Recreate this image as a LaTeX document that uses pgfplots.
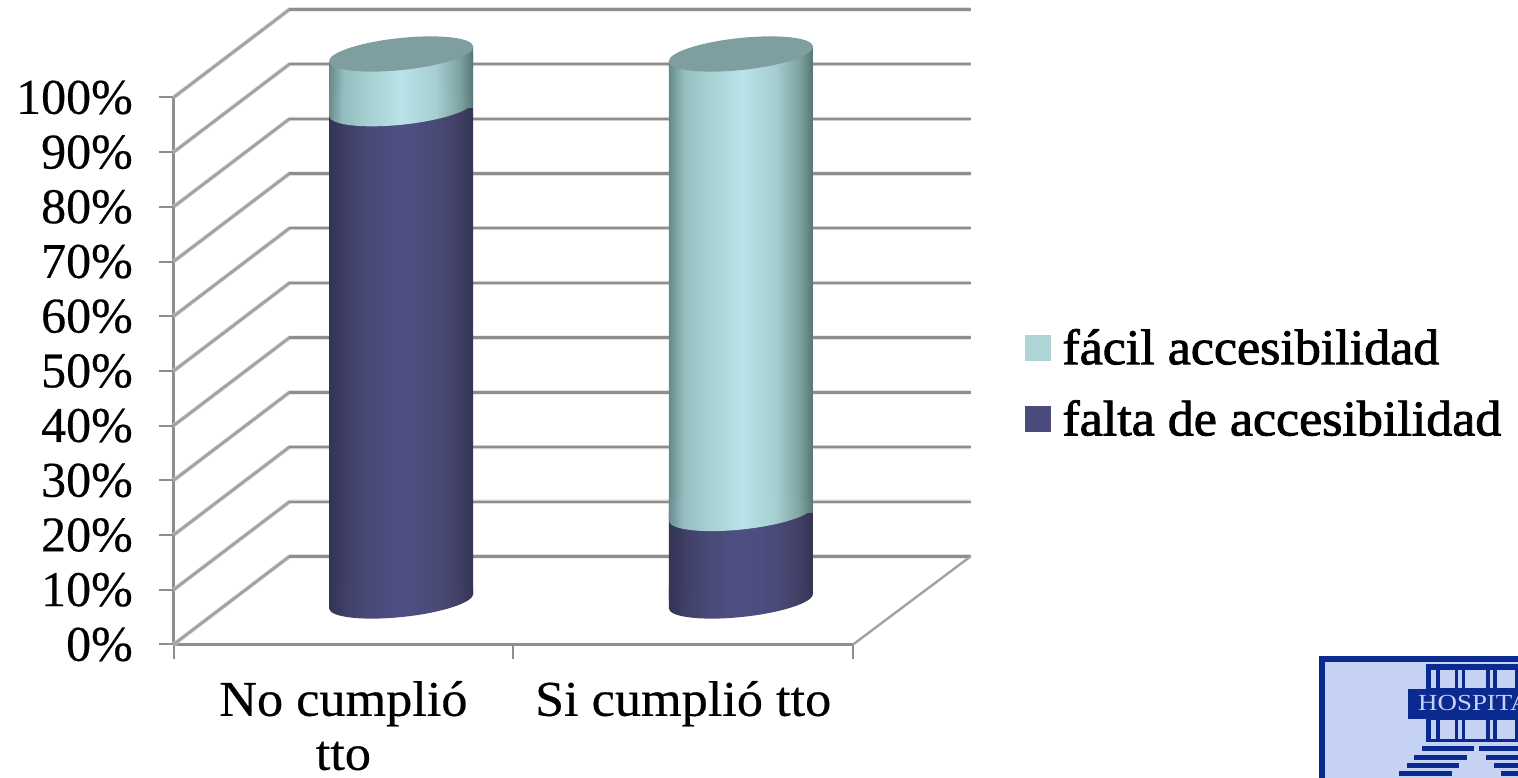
\documentclass[border=0pt]{standalone}
\usepackage{fontspec}
\setmainfont[FakeBold=0.4]{Liberation Serif}
\newfontfamily\categoryfont[FakeStretch=1.045,FakeBold=0.4]{Liberation Serif}
\newfontfamily\legendfont[FakeStretch=1.04,FakeBold=1.8]{Liberation Serif}
\newfontfamily\logofont[FakeStretch=1.17]{Liberation Serif}
\usepackage{pgfplots}
\usepackage{pgfplotstable}
\pgfplotsset{compat=1.18}

\definecolor{gridgray}{HTML}{8E8E8E}
\definecolor{gridsoft}{HTML}{CFCFCF}
\definecolor{walldiag}{HTML}{A2A2A2}
\definecolor{capteal}{HTML}{7F9EA0}
\definecolor{legendlight}{HTML}{AED4D6}
\definecolor{legenddark}{HTML}{4A4A7C}
\definecolor{logoblue}{HTML}{0A2A90}
\definecolor{logopale}{HTML}{C6D2F4}

% Cylinder body shadings, dark at both rims and brightest at the middle
\pgfdeclarehorizontalshading{cylLight}{100bp}{
  rgb(0bp)=(0.40,0.54,0.54); rgb(25bp)=(0.40,0.54,0.54);
  rgb(30bp)=(0.58,0.74,0.75); rgb(38bp)=(0.65,0.81,0.82);
  rgb(50bp)=(0.72,0.89,0.91); rgb(62bp)=(0.65,0.81,0.82);
  rgb(70bp)=(0.50,0.64,0.64); rgb(75bp)=(0.33,0.46,0.46);
  rgb(100bp)=(0.33,0.46,0.46)}
\pgfdeclarehorizontalshading{cylDark}{100bp}{
  rgb(0bp)=(0.20,0.20,0.33); rgb(25bp)=(0.20,0.20,0.33);
  rgb(31bp)=(0.25,0.25,0.41); rgb(40bp)=(0.29,0.29,0.47);
  rgb(50bp)=(0.31,0.31,0.52); rgb(62bp)=(0.29,0.29,0.47);
  rgb(70bp)=(0.25,0.25,0.40); rgb(75bp)=(0.20,0.20,0.33);
  rgb(100bp)=(0.20,0.20,0.33)}

% Tilted ellipse marks that round off the straight bar ends
\pgfdeclareplotmark{cylJoint}{%
  \path[draw=none, shading=cylLight]
    (-72pt,-7.6pt) -- (72pt,7.6pt) -- (72pt,14pt) -- (-72pt,14pt) -- cycle
    (0pt,0pt) circle[x radius=72.5pt, y radius=16pt, rotate=6];
}
\pgfdeclareplotmark{cylBase}{%
  \fill[white, draw=none] (74pt,8pt) -- (74pt,-3pt) -- (50pt,-3pt) -- cycle;
  \path[draw=none, shading=cylDark]
    (-72pt,-7.6pt) -- (72pt,7.6pt) -- (72pt,14pt) -- (-72pt,14pt) -- cycle
    (0pt,0pt) circle[x radius=72.5pt, y radius=16pt, rotate=6];
}
\pgfdeclareplotmark{cylCap}{%
  \fill[white, draw=none] (-74pt,-8pt) -- (-74pt,3pt) -- (-50pt,3pt) -- cycle;
  \path[draw=none, shading=cylLight]
    (72pt,7.6pt) -- (-72pt,-7.6pt) -- (-72pt,-14pt) -- (72pt,-14pt) -- cycle;
  \fill[capteal, draw=none] (0pt,0pt) circle[x radius=72.5pt, y radius=16pt, rotate=6];
}

% Share of each answer within the two treatment groups
\pgfplotstableread{
pos falta facil total
0.5 90 10 100
}\groupNo
\pgfplotstableread{
pos falta facil total
1.5 16 84 100
}\groupSi

\newcommand{\ticktext}{\fontsize{50}{54}\selectfont}
\newcommand{\categorytext}{\categoryfont\fontsize{50}{54}\selectfont}
\newcommand{\legendtext}{\legendfont\fontsize{50}{54}\selectfont}

\pgfplotsset{
  wall/.style={line join=bevel, forget plot},
  sharedframe/.style={
    scale only axis, width=679.5pt, height=547pt,
    xmin=0, xmax=2, ymin=0, ymax=100, clip=false},
  cylinderframe/.style={
    sharedframe, at={(231.3pt,177pt)}, anchor=origin, hide axis},
}

% One stacked cylinder body; the shading has to run over a single bar
\newcommand{\cylinderbars}[1]{%
  \begin{axis}[cylinderframe, ybar stacked, bar width=144pt]
    \addplot[draw=none, shading=cylDark] table[x=pos, y=falta] {#1};
    \addplot[draw=none, shading=cylLight] table[x=pos, y=facil] {#1};
  \end{axis}}

\begin{document}
\begin{tikzpicture}
\useasboundingbox (0,0) rectangle (1518pt,778pt);
\clip (0,0) rectangle (1518pt,778pt);

% Walls, floor and the two scales
\begin{axis}[
  sharedframe,
  at={(173.5pt,133.5pt)}, anchor=origin,
  axis x line*=bottom, axis y line*=left,
  axis line style={draw=gridgray, line width=2.2pt, -},
  tick style={draw=gridgray, line width=2pt},
  major tick length=14.5pt,
  tick align=outside,
  ytick={0,10,...,100},
  yticklabels={0\%,10\%,20\%,30\%,40\%,50\%,60\%,70\%,80\%,90\%,100\%},
  xtick={0,1,2}, xticklabels={,,},
  extra x ticks={0.5,1.5},
  extra x tick labels={No cumplió\\tto,Si cumplió tto},
  extra x tick style={
    major tick length=0pt,
    xticklabel style={align=center, yshift=-33pt, font=\categorytext}},
  yticklabel style={font=\ticktext, inner sep=0pt, xshift=-26pt},
]
  \pgfplotsinvokeforeach{0,10,...,100}{
    \addplot[wall, gridsoft, line width=4pt]
      coordinates {(0,#1) (0.3414,#1+16.1) (2.346,#1+16.1)};
    \addplot[wall, walldiag, line width=2.6pt]
      coordinates {(0,#1) (0.3414,#1+16.1)};
    \addplot[wall, gridgray, line width=2.4pt]
      coordinates {(0.3414,#1+16.1) (2.346,#1+16.1)};
  }
  \addplot[wall, walldiag, line width=2.4pt]
    coordinates {(2.346,16.1) (2,0)};
\end{axis}

\cylinderbars{\groupNo}
\cylinderbars{\groupSi}

% Curved ends of the cylinders at base, joint and top, with the legend
\begin{axis}[
  cylinderframe,
  legend cell align=left,
  legend style={
    at={(793.7pt,272pt)}, anchor=north west,
    draw=none, fill=none, inner sep=0pt, outer sep=0pt,
    row sep=34.5pt, font=\legendtext,
    nodes={inner sep=0pt, outer sep=0pt}},
  legend image code/.code={
    \fill[#1] (0pt,-12.5pt) rectangle (25pt,12.5pt);
    \path (37pt,0pt);},
]
  \addplot[only marks, forget plot, mark=cylBase]
    table[x=pos, y expr=0*\thisrow{total}] {\groupNo};
  \addplot[only marks, forget plot, mark=cylBase]
    table[x=pos, y expr=0*\thisrow{total}] {\groupSi};
  \addplot[only marks, forget plot, mark=cylJoint] table[x=pos, y=falta] {\groupNo};
  \addplot[only marks, forget plot, mark=cylJoint] table[x=pos, y=falta] {\groupSi};
  \addplot[only marks, forget plot, mark=cylCap] table[x=pos, y=total] {\groupNo};
  \addplot[only marks, forget plot, mark=cylCap] table[x=pos, y=total] {\groupSi};
  \addlegendimage{legendlight}
  \addlegendentry{fácil accesibilidad}
  \addlegendimage{legenddark}
  \addlegendentry{falta de accesibilidad}
\end{axis}

% Hospital emblem, cut off by the page edge
\begin{scope}[x=1pt, y=-1pt, yshift=778pt]
  \fill[logoblue] (1319,656) rectangle (1518,778);
  \fill[logopale] (1325,662) rectangle (1518,778);
  \fill[logoblue] (1426,664) rectangle (1518,742);
  \fill[logoblue] (1408,689) rectangle (1518,719);
  \foreach \yy/\yz in {670/688,720/739} {
    \foreach \xa/\xb in {1431/1436,1440/1455,1458/1462,1465/1486,1490/1493,1497/1515} {
      \fill[logopale] (\xa,\yy) rectangle (\xb,\yz);
    }
  }
  \node[anchor=base west, inner sep=0pt, text=logopale, font=\logofont\fontsize{23}{23}\selectfont]
    at (1418,711) {HOSPITA};
  \foreach \yy/\xa/\xb/\xc in {746.5/1421.7/1474/1479,755/1414/1467/1486,763/1407/1459/1494,771/1399/1452/1501} {
    \fill[logoblue] (\xa,\yy) rectangle (\xb,\yy+4.6);
    \fill[logoblue] (\xc,\yy) rectangle (1518,\yy+4.6);
  }
\end{scope}
\end{tikzpicture}
\end{document}
